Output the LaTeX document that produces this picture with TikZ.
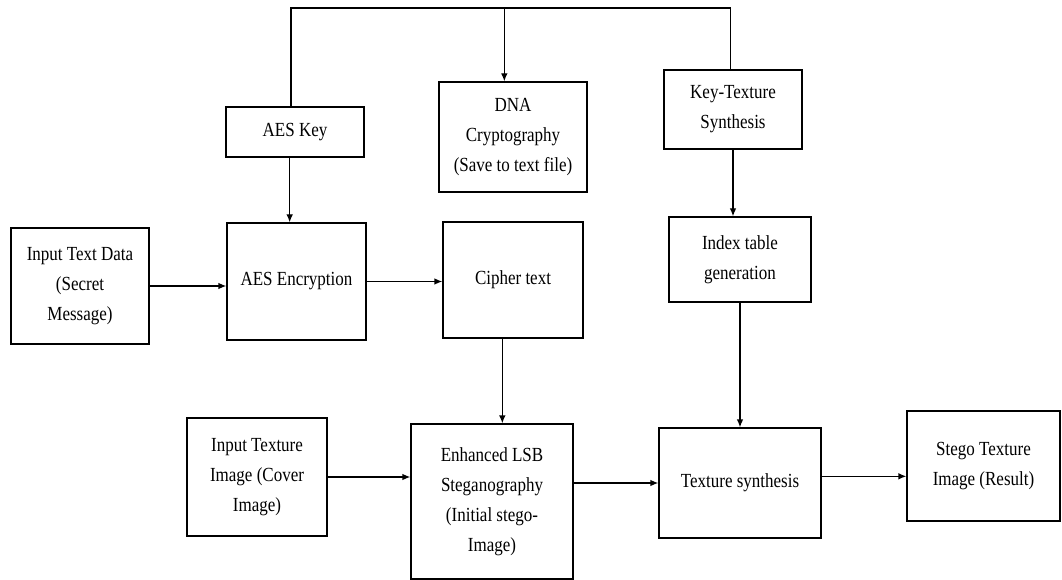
\documentclass[tikz,border=0pt]{standalone}
\usepackage{fontspec}
\setmainfont{Liberation Serif}[FakeStretch=0.85]
\usetikzlibrary{arrows.meta}

\begin{document}
\begin{tikzpicture}[x=0.75pt, y=-0.75pt,
  box/.style 2 args={draw, line width=1pt, align=center, inner sep=2pt,
    minimum width=#1, minimum height=#2, font=\fontsize{15}{22.5}\selectfont},
  arr/.style={-{Latex[length=6pt,width=5pt]}, line width=1pt},
  wire/.style={line width=1pt}]
\useasboundingbox (0,0) rectangle (1062,580);
% upper row
\node[box={103.5pt}{37.5pt}] (aeskey) at (295,132) {AES Key};
\node[box={111pt}{82.5pt}] (dna) at (513,137) {DNA\\Cryptography\\(Save to text file)};
\node[box={103.5pt}{59.25pt}] (keytex) at (733,109.5) {Key-Texture\\Synthesis};
% middle row
\node[box={103.5pt}{87pt}] (input) at (80,286) {Input Text Data\\(Secret\\Message)};
\node[box={104.25pt}{87.75pt}] (aesenc) at (296.5,281.5) {AES Encryption};
\node[box={105pt}{87pt}] (cipher) at (513,280) {Cipher text};
\node[box={106.5pt}{63.75pt}] (index) at (740,259.5) {Index table\\generation};
% lower row
\node[box={105pt}{88.5pt}] (texin) at (257,477) {Input Texture\\Image (Cover\\Image)};
\node[box={121.5pt}{116.25pt}] (lsb) at (492,501.5) {Enhanced LSB\\Steganography\\(Initial stego-\\Image)};
\node[box={121.5pt}{82.5pt}] (texsyn) at (740,483) {Texture synthesis};
\node[box={114.75pt}{82.5pt}] (stego) at (983.5,466) {Stego Texture\\Image (Result)};

% key bus along the top
\coordinate (busl) at ([xshift=-3pt]aeskey.north |- 0,8);
\coordinate (busr) at ([xshift=-2pt]keytex.north |- 0,8);
\draw[wire] ([xshift=-3pt]aeskey.north) -- (busl) -- (busr) -- ([xshift=-2pt]keytex.north);
\draw[arr] ([xshift=-6.5pt]dna.north |- busl) -- ([xshift=-6.5pt]dna.north);

\draw[arr] ([xshift=-4pt]aeskey.south) -- ([xshift=-4pt]aeskey.south |- aesenc.north);
\draw[arr] (keytex.south) -- (keytex.south |- index.north);
\draw[arr] (input.east) -- (input.east -| aesenc.west);
\draw[arr] (aesenc.east) -- (aesenc.east -| cipher.west);
\draw[arr] ([xshift=-8pt]cipher.south) -- ([xshift=-8pt]cipher.south |- lsb.north);
\draw[arr] (index.south) -- (texsyn.north);
\draw[arr] (texin.east) -- (texin.east -| lsb.west);
\draw[arr] (texsyn.west -| lsb.east) -- (texsyn.west);
\draw[arr] ([yshift=5pt]texsyn.east) -- ([yshift=5pt]texsyn.east -| stego.west);
\end{tikzpicture}
\end{document}
